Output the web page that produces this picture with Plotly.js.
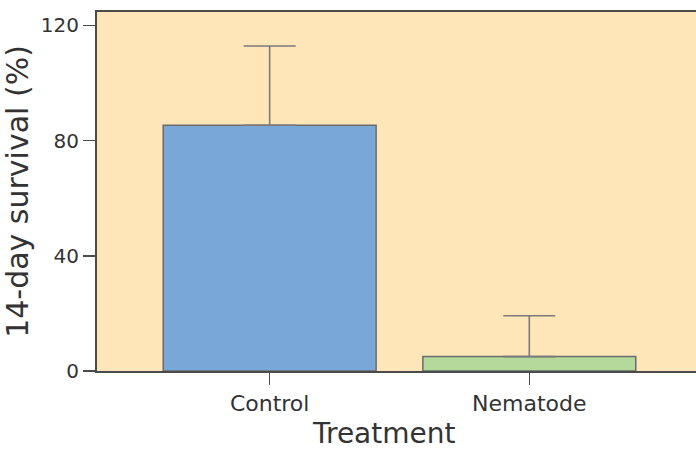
<!DOCTYPE html>
<html>
<head>
<meta charset="utf-8">
<script src="https://cdn.plot.ly/plotly-3.0.1.min.js"></script>
<style>html,body{margin:0;padding:0;background:#fff;}#chart{width:696px;height:450px;}</style>
</head>
<body>
<div id="chart"></div>
<script>
const categories = ["Control", "Nematode"];
const survival = [85.3, 5.0];
const errorUpper = [27.5, 14.2];
const barColors = ["#78A7D8", "#B3D99B"];
const yTicks = [0, 40, 80, 120];
const xTitle = "Treatment";
const yTitle = "14-day survival (%)";

const trace = {
  type: "bar",
  x: categories,
  y: survival,
  width: 0.82,
  marker: { color: barColors, line: { color: "#6b6b6b", width: 1.5 } },
  error_y: {
    type: "data",
    symmetric: false,
    array: errorUpper,
    arrayminus: [0, 0],
    color: "#7a7a7a",
    thickness: 1.6,
    width: 26
  },
  hoverinfo: "none"
};

const font = "DejaVu Sans, Arial, sans-serif";
const layout = {
  width: 696,
  height: 450,
  margin: { l: 97, r: 0, t: 12, b: 79 },
  paper_bgcolor: "#ffffff",
  plot_bgcolor: "#FEE6B9",
  showlegend: false,
  font: { family: font, color: "#333333" },
  xaxis: {
    type: "category",
    range: [-0.665, 1.642],
    showline: true,
    mirror: true,
    linecolor: "#4a4a4a",
    linewidth: 2,
    ticks: "outside",
    ticklen: 12,
    tickwidth: 1.5,
    tickcolor: "#4a4a4a",
    tickfont: { size: 22, family: font, color: "#333333" },
    showgrid: false,
    zeroline: false
  },
  yaxis: {
    range: [0, 124.6],
    tickvals: yTicks,
    ticktext: yTicks.map(String),
    showline: true,
    linecolor: "#4a4a4a",
    linewidth: 2,
    ticks: "outside",
    ticklen: 12,
    tickwidth: 1.5,
    tickcolor: "#4a4a4a",
    tickfont: { size: 20, family: font, color: "#333333" },
    showgrid: false,
    zeroline: false,
    title: { text: yTitle, font: { size: 30, family: font, color: "#333333" }, standoff: 12 }
  },
  annotations: [{
    text: xTitle,
    xref: "paper", yref: "paper",
    x: 0.479, y: -0.175,
    xanchor: "center", yanchor: "middle",
    showarrow: false,
    font: { size: 28, family: font, color: "#333333" }
  }]
};

Plotly.newPlot("chart", [trace], layout, { staticPlot: true, displayModeBar: false });
</script>
</body>
</html>
